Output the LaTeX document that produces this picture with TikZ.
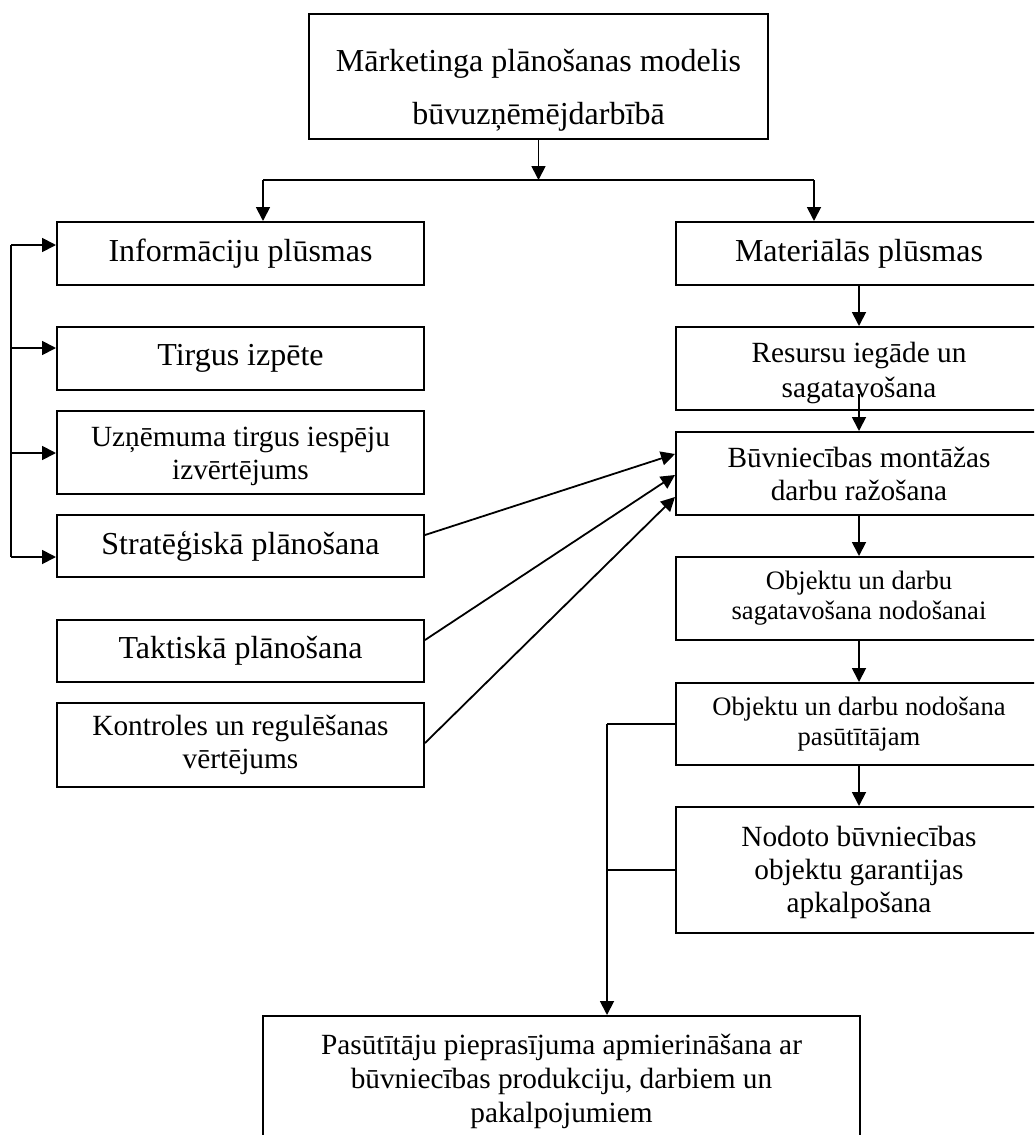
\documentclass[tikz,border=0pt]{standalone}
\usepackage{fontspec}
\setmainfont{Liberation Serif}
\usetikzlibrary{arrows.meta,calc}
\newcommand\fA{\fontsize{32}{36}\selectfont}
\newcommand\fB{\fontsize{29.3}{33}\selectfont}
\newcommand\fC{\fontsize{26.6}{30}\selectfont}
\tikzset{
  box/.style={draw, line width=2pt, rectangle, inner sep=0pt, align=center},
  conn/.style={line width=1.8pt},
  arr/.style={line width=1.8pt, -{Triangle[length=14pt,width=14pt]}},
}
\begin{document}
\begin{tikzpicture}[x={(1pt,0)}, y={(0,-1pt)}]
\useasboundingbox (0,0) rectangle (1034,1135);
\clip (0,0) rectangle (1034,1135);
\fill[white] (0,0) rectangle (1034,1135);

% top
\node[box, minimum width=459pt, minimum height=125pt, font={\fontsize{32}{53}\selectfont}] (top) at (538.5,76.5) {\rule{0pt}{50pt}Mārketinga plānošanas modelis\\ būvuzņēmējdarbībā};

% left column
\node[box, minimum width=367pt, minimum height=63pt, font=\fA] (info) at (240.5,253.5) {Informāciju plūsmas};
\node[box, minimum width=367pt, minimum height=63pt, font=\fA] (tirgus) at (240.5,358.5) {Tirgus izpēte};
\node[box, minimum width=367pt, minimum height=83pt, font=\fB] (uzn) at (240.5,452.5) {\rule{0pt}{28pt}Uzņēmuma tirgus iespēju\\ izvērtējums};
\node[box, minimum width=367pt, minimum height=62pt, font=\fA] (strat) at (240.5,546) {Stratēģiskā plānošana};
\node[box, minimum width=367pt, minimum height=62pt, font=\fA] (takt) at (240.5,651) {Taktiskā plānošana};
\node[box, minimum width=367pt, minimum height=84pt, font=\fB] (kontr) at (240.5,745) {Kontroles un regulēšanas\\ vērtējums};

% right column
\node[box, minimum width=366pt, minimum height=63pt, font=\fA] (mat) at (859,253.5) {Materiālās plūsmas};
\node[box, minimum width=366pt, minimum height=83pt, font={\fontsize{29.3}{35}\selectfont}] (res) at (859,368.5) {\rule{0pt}{30pt}Resursu iegāde un\\ sagatavošana};
\node[box, minimum width=366pt, minimum height=83pt, font=\fB] (buv) at (859,473.5) {Būvniecības montāžas\\ darbu ražošana};
\node[box, minimum width=366pt, minimum height=83pt, font=\fC] (obj1) at (859,598.5) {Objektu un darbu\\ sagatavošana nodošanai};
\node[box, minimum width=366pt, minimum height=82pt, font=\fC] (obj2) at (859,724) {Objektu un darbu nodošana\\ pasūtītājam};
\node[box, minimum width=366pt, minimum height=126pt, font=\fB] (nod) at (859,870) {\rule{0pt}{26pt}Nodoto būvniecības\\ objektu garantijas\\ apkalpošana};

% bottom (its lower edge runs past the page, as in the reference)
\node[box, minimum width=597pt, minimum height=130pt, font={\fontsize{29.3}{34}\selectfont}] (bot) at (561.5,1081) {Pasūtītāju pieprasījuma apmierināšana ar\\ būvniecības produkciju, darbiem un\\ pakalpojumiem};

% top split
\coordinate (jm) at (538.5,180);
\coordinate (jl) at (263,180);
\coordinate (jr) at (814,180);
\draw[arr] (top.south) -- (jm);
\draw[conn] (jl) -- (jr);
\draw[arr] (jl) -- (jl |- info.north);
\draw[arr] (jr) -- (jr |- mat.north);

% left loop
\coordinate (la) at (11,245);
\coordinate (lb) at (11,348);
\coordinate (lc) at (11,453);
\coordinate (ld) at (11,557);
\draw[conn] (la) -- (ld);
\draw[arr] (la) -- (la -| info.west);
\draw[arr] (lb) -- (lb -| tirgus.west);
\draw[arr] (lc) -- (lc -| uzn.west);
\draw[arr] (ld) -- (ld -| strat.west);

% diagonals
\draw[arr] ($(strat.east)+(0,-11)$) -- ($(buv.west)+(0,-19.5)$);
\draw[arr] ($(takt.east)+(0,-11)$) -- ($(buv.west)+(0,1.5)$);
\draw[arr] ($(kontr.east)+(0,-2)$) -- ($(buv.west)+(0,23.5)$);

% right chain
\draw[arr] (mat.south) -- (res.north);
\draw[arr] ($(res.south)+(0,-17)$) -- (buv.north);
\draw[arr] (buv.south) -- (obj1.north);
\draw[arr] (obj1.south) -- (obj2.north);
\draw[arr] (obj2.south) -- (nod.north);

% feedback to bottom
\coordinate (ka) at (607,724);
\coordinate (kb) at (607,870);
\draw[conn] (obj2.west) -- (ka);
\draw[conn] (nod.west) -- (kb);
\draw[arr] (ka) -- (ka |- bot.north);
\end{tikzpicture}
\end{document}
